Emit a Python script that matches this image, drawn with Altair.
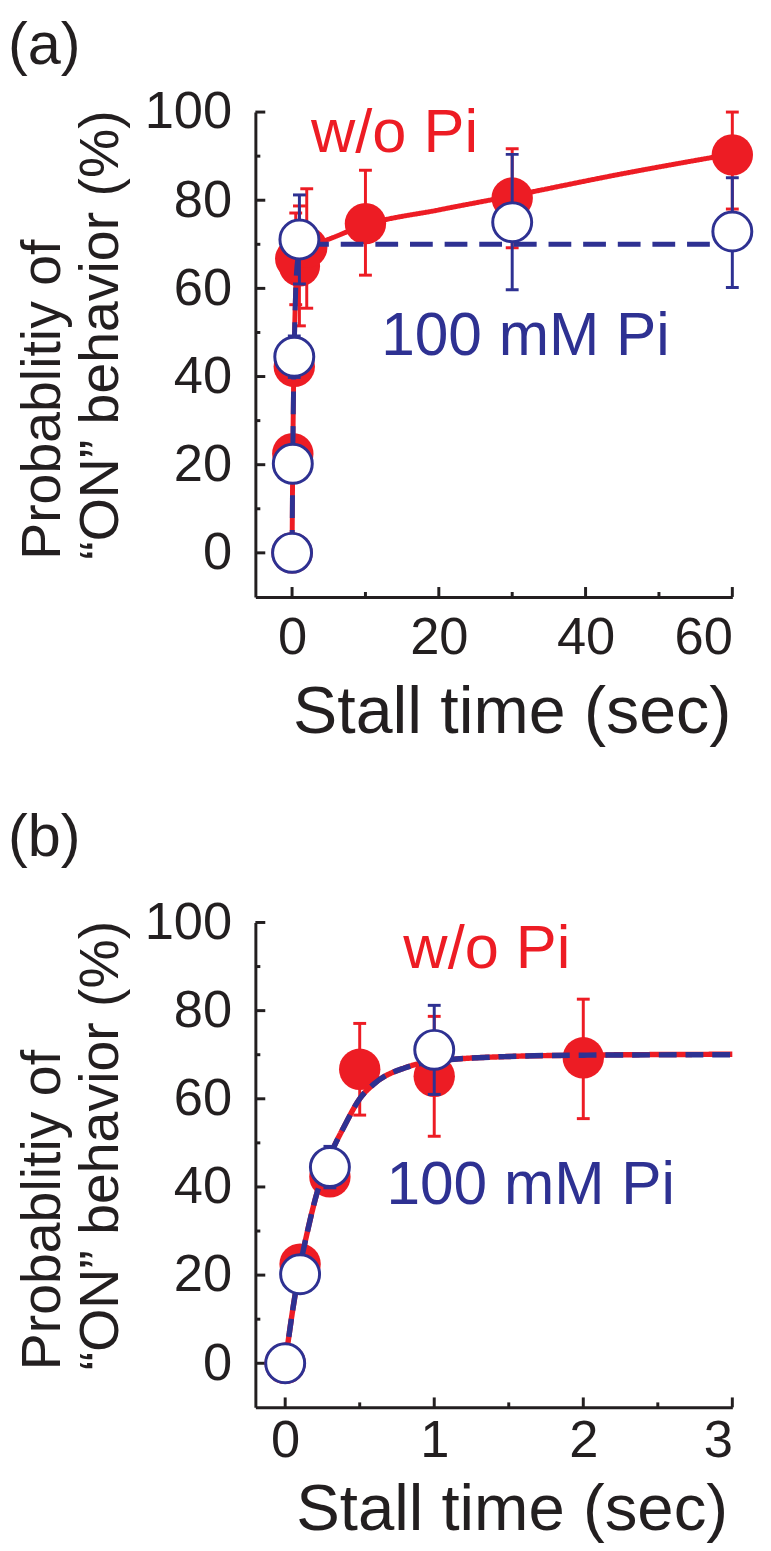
import altair as alt
import pandas as pd

# measured points, w/o Pi (red, filled circles)
wo_time = [0, 0.1, 0.3, 0.5, 1, 2, 10, 30, 60]
wo_prob = [0, 22.5, 42.3, 66.7, 65.1, 69.3, 74.7, 80.5, 90.3]
wo_lo = [0, 20.5, 39.5, 56.3, 51.5, 55.5, 63.0, 69.2, 78.0]
wo_hi = [0, 24.5, 45.0, 77.1, 78.7, 82.6, 86.8, 91.7, 100.0]

# measured points, 100 mM Pi (blue, open circles)
pi_time = [0, 0.1, 0.3, 1, 30, 60]
pi_prob = [0, 20.2, 44.5, 71.1, 75.0, 72.9]
pi_lo = [0, 18.2, 39.8, 61.0, 59.7, 60.2]
pi_hi = [0, 22.2, 49.2, 81.2, 90.4, 85.1]

# fit curves
fit_wo_time = [0, 0.05, 0.1, 0.15, 0.2, 0.3, 0.4, 0.5, 0.6, 0.8, 1, 1.5, 2, 3, 4, 10, 20, 30, 45, 60]
fit_wo_prob = [0, 12, 22, 30, 37, 47, 54, 60, 63.5, 67, 68.5, 69.6, 69.9, 70.1, 70.6, 74.4, 77.8, 81, 86, 90.5]
fit_pi_time = [0, 0.05, 0.1, 0.15, 0.2, 0.3, 0.4, 0.5, 0.6, 0.8, 1, 1.5, 2, 3, 60]
fit_pi_prob = [0, 12, 22, 30, 37, 47, 54, 60, 63.5, 67, 68.5, 69.6, 69.9, 70, 70]

# axis ticks
y_major = [0, 20, 40, 60, 80, 100]
y_minor = [10, 30, 50, 70, 90]
xa_major = [0, 20, 40, 60]
xa_minor = [10, 30, 50]
xb_major = [0, 1, 2, 3]
xb_minor = [0.5, 1.5, 2.5]

RED = "#ED1C24"
BLUE = "#2E3192"
INK = "#231F20"
FONT = "Liberation Sans"
W = 482
Y_TITLE = ["Probablitiy of", "“ON” behavior (%)"]


def frame(t, p, lo=None, hi=None):
    df = pd.DataFrame({"t": t, "p": p})
    if lo is not None:
        df["lo"] = lo
        df["hi"] = hi
    return df


def series_layers(df, fit, color, filled, dash, lw):
    line = alt.Chart(fit).mark_line(
        color=color, strokeWidth=lw, interpolate="monotone", strokeDash=dash
    ).encode(x="t:Q", y="p:Q")
    err = alt.Chart(df).mark_rule(color=color, strokeWidth=3).encode(
        x="t:Q", y="lo:Q", y2="hi:Q"
    )
    cap_lo = alt.Chart(df).mark_tick(
        color=color, orient="horizontal", size=13, thickness=3, opacity=1
    ).encode(x="t:Q", y="lo:Q")
    cap_hi = alt.Chart(df).mark_tick(
        color=color, orient="horizontal", size=13, thickness=3, opacity=1
    ).encode(x="t:Q", y="hi:Q")
    if filled:
        pts = alt.Chart(df).mark_point(
            shape="circle", filled=True, color=color, size=1750, opacity=1
        )
    else:
        pts = alt.Chart(df).mark_point(
            shape="circle", filled=True, fill="white", stroke=color,
            strokeWidth=3, size=1550, opacity=1
        )
    pts = pts.encode(x="t:Q", y="p:Q")
    return [line, err, cap_lo, cap_hi, pts]


def panel(tag, tag_y, h, x_dom, x_major, x_minor, t_max, lab_pad, tit_pad, tit_size,
          wo_pos, pi_pos, dash, lw):
    wo = frame(wo_time, wo_prob, wo_lo, wo_hi)
    pi = frame(pi_time, pi_prob, pi_lo, pi_hi)
    fwo = frame(fit_wo_time, fit_wo_prob)
    fpi = frame(fit_pi_time, fit_pi_prob)
    wo, pi = wo[wo.t <= t_max], pi[pi.t <= t_max]
    fwo, fpi = fwo[fwo.t <= t_max], fpi[fpi.t <= t_max]

    X = alt.X(
        "t:Q",
        scale=alt.Scale(domain=x_dom, nice=False, zero=False),
        axis=alt.Axis(values=x_major, format="d", title="Stall time (sec)", ticks=False,
                      labelPadding=lab_pad, titlePadding=tit_pad, titleFontSize=tit_size,
                      titleX=W / 2 + 18),
    )
    Y = alt.Y(
        "p:Q",
        scale=alt.Scale(domain=[-10, 100], nice=False, zero=False),
        axis=alt.Axis(values=y_major, title=Y_TITLE, ticks=False, labelPadding=24,
                      titlePadding=15, titleFontSize=56, titleLineHeight=59,
                      titleAlign="left", titleY=h - 38),
    )

    # inward ticks drawn as short rules on the shared scales
    xt_maj = alt.Chart(pd.DataFrame({"t": x_major})).mark_rule(color=INK, strokeWidth=3).encode(
        x=X, y=alt.value(h), y2=alt.value(h - 10))
    xt_min = alt.Chart(pd.DataFrame({"t": x_minor})).mark_rule(color=INK, strokeWidth=3).encode(
        x="t:Q", y=alt.value(h), y2=alt.value(h - 5))
    yt_maj = alt.Chart(pd.DataFrame({"p": y_major})).mark_rule(color=INK, strokeWidth=3).encode(
        y=Y, x=alt.value(0), x2=alt.value(10))
    yt_min = alt.Chart(pd.DataFrame({"p": y_minor})).mark_rule(color=INK, strokeWidth=3).encode(
        y="p:Q", x=alt.value(0), x2=alt.value(5))

    red = series_layers(wo, fwo, RED, True, [1, 0], lw)
    blue = series_layers(pi, fpi, BLUE, False, dash, lw)

    txt_wo = alt.Chart(pd.DataFrame({"t": [wo_pos[0]], "p": [wo_pos[1]], "s": ["w/o Pi"]})).mark_text(
        color=RED, fontSize=62, font=FONT).encode(x="t:Q", y="p:Q", text="s:N")
    txt_pi = alt.Chart(pd.DataFrame({"t": [pi_pos[0]], "p": [pi_pos[1]], "s": ["100 mM Pi"]})).mark_text(
        color=BLUE, fontSize=61, font=FONT).encode(x="t:Q", y="p:Q", text="s:N")

    # panel letter, placed above the y-axis title
    letter = alt.Chart(pd.DataFrame({"s": [tag]})).mark_text(
        fontSize=60, font=FONT, color=INK, align="left", baseline="top"
    ).encode(x=alt.value(-250), y=alt.value(tag_y), text="s:N")

    return alt.layer(
        xt_maj, xt_min, yt_maj, yt_min, *red, *blue, txt_wo, txt_pi, letter
    ).properties(width=W, height=h)


panel_a = panel("(a)", -96, 490, [-5, 60], xa_major, xa_minor, 60, 15, 16, 67,
                (13.96, 95.1), (31.8, 49.0), [23, 12], 5)
panel_b = panel("(b)", -114, 490, [-0.2, 3], xb_major, xb_minor, 3, 8, 10, 66,
                (1.353, 94.0), (1.647, 40.2), [18, 9], 5.5)

chart = alt.vconcat(panel_a, panel_b, spacing=64).properties(
    padding={"left": 0, "top": 0, "right": 5, "bottom": 0}
).configure_view(stroke=None).configure_axis(
    grid=False, domainColor=INK, domainWidth=3, labelFont=FONT, titleFont=FONT,
    labelFontSize=53, labelColor=INK, titleColor=INK, titleFontWeight="normal",
).configure_axisLeft(
    labelAlign="right", labelBaseline="middle"
)

chart.save("out.html", embed_options={"renderer": "svg", "actions": False})
